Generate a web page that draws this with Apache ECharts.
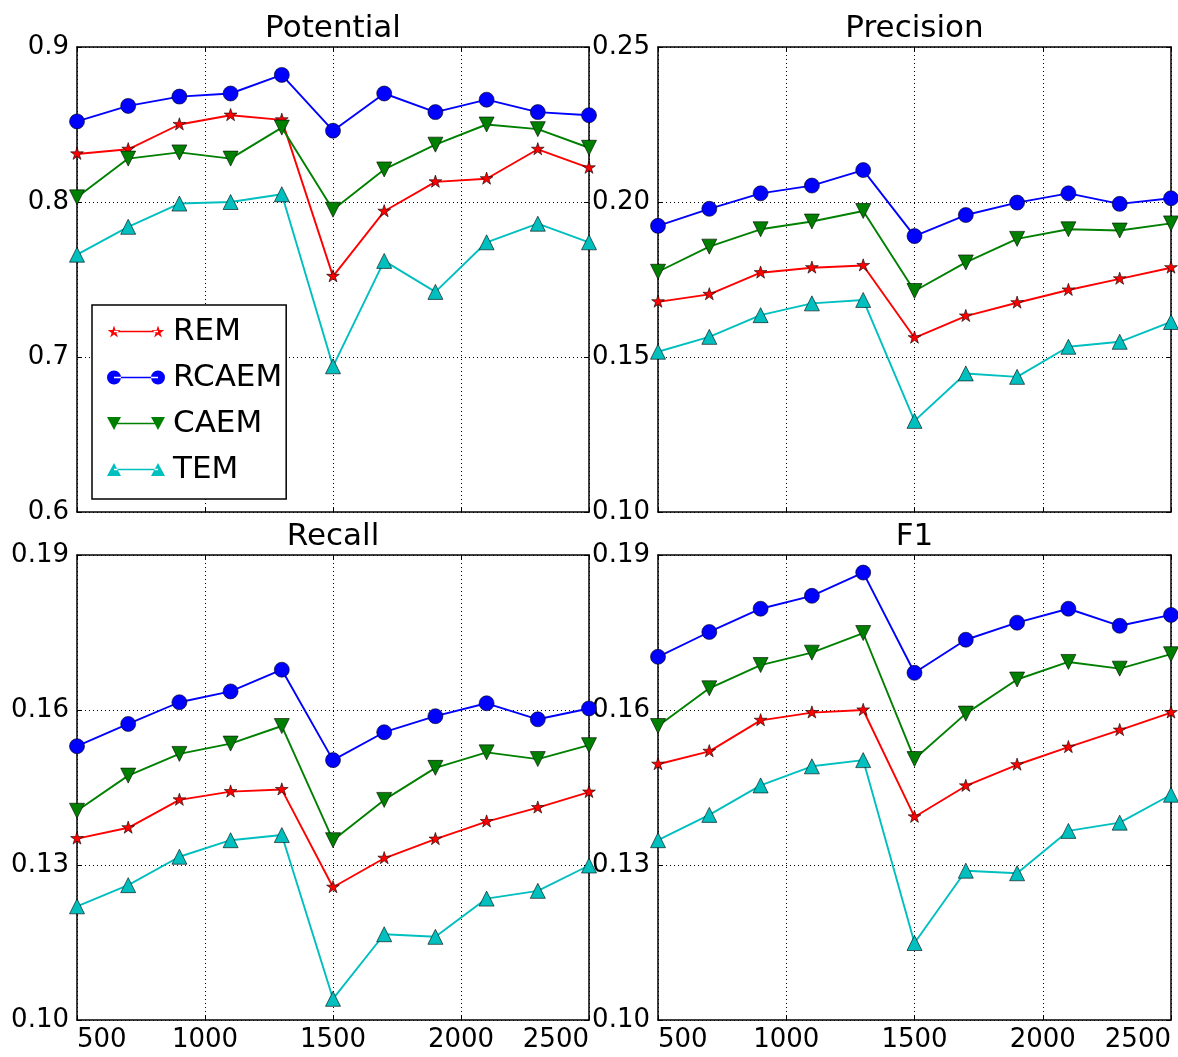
<!DOCTYPE html>
<html>
<head>
<meta charset="utf-8">
<script src="https://cdn.jsdelivr.net/npm/echarts@6/dist/echarts.min.js"></script>
<style>
html,body{margin:0;padding:0;background:#fff;}
#chart{width:1178px;height:1057px;}
</style>
</head>
<body>
<div id="chart"></div>
<script>
// ---------- data ----------
const xValues = [500, 700, 900, 1100, 1300, 1500, 1700, 1900, 2100, 2300, 2500];
const seriesNames = ['REM', 'RCAEM', 'CAEM', 'TEM'];
const panelTitles = ['Potential', 'Precision', 'Recall', 'F1'];

const potentialREM   = [0.831, 0.834, 0.850, 0.856, 0.853, 0.752, 0.794, 0.813, 0.815, 0.834, 0.822];
const potentialRCAEM = [0.852, 0.862, 0.868, 0.870, 0.882, 0.846, 0.870, 0.858, 0.866, 0.858, 0.856];
const potentialCAEM  = [0.803, 0.828, 0.832, 0.828, 0.848, 0.795, 0.821, 0.837, 0.850, 0.847, 0.835];
const potentialTEM   = [0.766, 0.784, 0.799, 0.800, 0.805, 0.694, 0.762, 0.742, 0.774, 0.786, 0.774];

const precisionREM   = [0.1678, 0.1702, 0.1772, 0.1788, 0.1795, 0.1562, 0.1632, 0.1675, 0.1716, 0.1752, 0.1788];
const precisionRCAEM = [0.1923, 0.1978, 0.2028, 0.2053, 0.2103, 0.1890, 0.1958, 0.1998, 0.2028, 0.1994, 0.2012];
const precisionCAEM  = [0.1775, 0.1856, 0.1912, 0.1937, 0.1971, 0.1713, 0.1805, 0.1881, 0.1912, 0.1908, 0.1931];
const precisionTEM   = [0.1517, 0.1565, 0.1635, 0.1673, 0.1684, 0.1294, 0.1447, 0.1436, 0.1533, 0.1549, 0.1613];

const recallREM   = [0.1351, 0.1372, 0.1426, 0.1442, 0.1446, 0.1257, 0.1313, 0.1350, 0.1384, 0.1411, 0.1441];
const recallRCAEM = [0.1530, 0.1573, 0.1615, 0.1636, 0.1678, 0.1503, 0.1557, 0.1588, 0.1613, 0.1582, 0.1603];
const recallCAEM  = [0.1405, 0.1473, 0.1515, 0.1535, 0.1569, 0.1348, 0.1426, 0.1488, 0.1518, 0.1505, 0.1532];
const recallTEM   = [0.1220, 0.1261, 0.1316, 0.1348, 0.1358, 0.1041, 0.1166, 0.1161, 0.1235, 0.1250, 0.1299];

const f1REM   = [0.1495, 0.1520, 0.1580, 0.1595, 0.1600, 0.1393, 0.1453, 0.1494, 0.1528, 0.1561, 0.1595];
const f1RCAEM = [0.1703, 0.1751, 0.1796, 0.1821, 0.1866, 0.1672, 0.1736, 0.1769, 0.1796, 0.1763, 0.1784];
const f1CAEM  = [0.1569, 0.1642, 0.1687, 0.1711, 0.1749, 0.1505, 0.1593, 0.1659, 0.1693, 0.1680, 0.1708];
const f1TEM   = [0.1348, 0.1397, 0.1454, 0.1491, 0.1503, 0.1149, 0.1289, 0.1284, 0.1366, 0.1382, 0.1436];

// y-axis ranges / tick steps for each panel
const yMins      = [0.6, 0.10, 0.10, 0.10];
const yMaxs      = [0.9, 0.25, 0.19, 0.19];
const yIntervals = [0.1, 0.05, 0.03, 0.03];
const yDecimals  = [1, 2, 2, 2];
const xMin = 500, xMax = 2500, xInterval = 500;

const panelData = [
  [potentialREM, potentialRCAEM, potentialCAEM, potentialTEM],
  [precisionREM, precisionRCAEM, precisionCAEM, precisionTEM],
  [recallREM, recallRCAEM, recallCAEM, recallTEM],
  [f1REM, f1RCAEM, f1CAEM, f1TEM]
];

// ---------- styling ----------
const FONT = 'DejaVu Sans';
const colors = ['#ff0000', '#0000ff', '#008000', '#00bfbf'];
const starPath = 'path://M0,-100 L22.45,-30.9 L95.1,-30.9 L36.33,11.8 L58.8,80.9 L0,38.2 L-58.8,80.9 L-36.33,11.8 L-95.1,-30.9 L-22.45,-30.9 Z M0,100 L0.1,100 L0,100 Z';
const symbols = [starPath, 'circle', 'triangle', 'triangle'];
const symbolSizes = [[12.8, 13.5], 15, 15, 15];
const symbolRotates = [0, 0, 180, 0];

// legend icons: line with a marker at both ends (58 x 14 box)
function starAt(cx, cy, r) {
  const pts = [];
  for (let k = 0; k < 10; k++) {
    const a = (90 + k * 36) * Math.PI / 180;
    const rr = k % 2 === 0 ? r : r * 0.382;
    pts.push((cx + rr * Math.cos(a)).toFixed(2) + ',' + (cy - rr * Math.sin(a)).toFixed(2));
  }
  return 'M' + pts.join(' L') + ' Z';
}
const lineRect = 'M7,6.2 L51,6.2 L51,7.8 L7,7.8 Z';
const corners = 'M0,0 L0.01,0 L0,0 Z M58,14 L57.99,14 L58,14 Z';
const legendIcons = [
  'path://' + corners + ' ' + lineRect + ' ' + starAt(7, 7.6, 6.6) + ' ' + starAt(51, 7.6, 6.6),
  'path://' + corners + ' ' + lineRect + ' M0,7 A7,7 0 1,0 14,7 A7,7 0 1,0 0,7 Z M44,7 A7,7 0 1,0 58,7 A7,7 0 1,0 44,7 Z',
  'path://' + corners + ' ' + lineRect + ' M0,0.5 L14,0.5 L7,13.5 Z M44,0.5 L58,0.5 L51,13.5 Z',
  'path://' + corners + ' ' + lineRect + ' M0,13.5 L14,13.5 L7,0.5 Z M44,13.5 L58,13.5 L51,0.5 Z'
];

const grids = [
  { left: 77,  top: 47,  width: 512, height: 465 },
  { left: 658, top: 47,  width: 513, height: 465 },
  { left: 77,  top: 555, width: 512, height: 465 },
  { left: 658, top: 555, width: 513, height: 465 }
];

const xAxes = [], yAxes = [], series = [];
const tickStyle = { show: true, inside: true, length: 5, lineStyle: { color: '#000', width: 1 } };
const lineStyleAxis = { show: true, onZero: false, lineStyle: { color: '#000', width: 1.5 } };
const gridLine = { show: true, lineStyle: { color: '#000', width: 1, type: [1, 3] } };

for (let g = 0; g < 4; g++) {
  const isBottom = g >= 2;
  xAxes.push({
    type: 'value', gridIndex: g, position: 'bottom', min: xMin, max: xMax, interval: xInterval,
    axisLine: lineStyleAxis, axisTick: tickStyle, splitLine: gridLine,
    axisLabel: {
      show: isBottom, color: '#000', fontFamily: FONT, fontSize: 26, margin: 7,
      alignMinLabel: 'left', alignMaxLabel: 'right', formatter: v => String(v)
    }
  });
  xAxes.push({
    type: 'value', gridIndex: g, position: 'top', min: xMin, max: xMax, interval: xInterval,
    axisLine: lineStyleAxis, axisTick: tickStyle, splitLine: { show: false }, axisLabel: { show: false },
    name: panelTitles[g], nameLocation: 'middle', nameGap: 3,
    nameTextStyle: { color: '#000', fontFamily: FONT, fontSize: 31, verticalAlign: 'bottom' }
  });
  const dec = yDecimals[g];
  yAxes.push({
    type: 'value', gridIndex: g, position: 'left', min: yMins[g], max: yMaxs[g], interval: yIntervals[g],
    axisLine: lineStyleAxis, axisTick: tickStyle, splitLine: gridLine,
    axisLabel: { color: '#000', fontFamily: FONT, fontSize: 26, margin: 8, formatter: v => v.toFixed(dec) }
  });
  yAxes.push({
    type: 'value', gridIndex: g, position: 'right', min: yMins[g], max: yMaxs[g], interval: yIntervals[g],
    axisLine: lineStyleAxis, axisTick: tickStyle, splitLine: { show: false }, axisLabel: { show: false }
  });
  for (let s = 0; s < 4; s++) {
    const vals = panelData[g][s];
    series.push({
      name: seriesNames[s], type: 'line', xAxisIndex: g * 2, yAxisIndex: g * 2,
      data: xValues.map((x, i) => [x, vals[i]]),
      symbol: symbols[s], symbolSize: symbolSizes[s], symbolRotate: symbolRotates[s],
      showAllSymbol: true, clip: false,
      lineStyle: { color: colors[s], width: 1.9 },
      itemStyle: { color: colors[s], borderColor: '#000', borderWidth: 0.6, opacity: 1 },
      emphasis: { disabled: true }
    });
  }
}

const chart = echarts.init(document.getElementById('chart'), null, { renderer: 'canvas' });
chart.setOption({
  animation: false,
  backgroundColor: '#fff',
  textStyle: { fontFamily: FONT },
  grid: grids,
  xAxis: xAxes,
  yAxis: yAxes,
  legend: {
    orient: 'vertical', left: 92, top: 305,
    padding: [11, 4, 14, 15], itemGap: 15, itemWidth: 58, itemHeight: 14,
    backgroundColor: '#fff', borderColor: '#000', borderWidth: 1.5, borderRadius: 0,
    selectedMode: false,
    textStyle: { color: '#000', fontFamily: FONT, fontSize: 31, lineHeight: 30, padding: [0, 0, 0, 3] },
    data: seriesNames.map((n, i) => ({ name: n, icon: legendIcons[i], itemStyle: { color: colors[i], borderWidth: 0 } }))
  },
  series: series
});
</script>
</body>
</html>
